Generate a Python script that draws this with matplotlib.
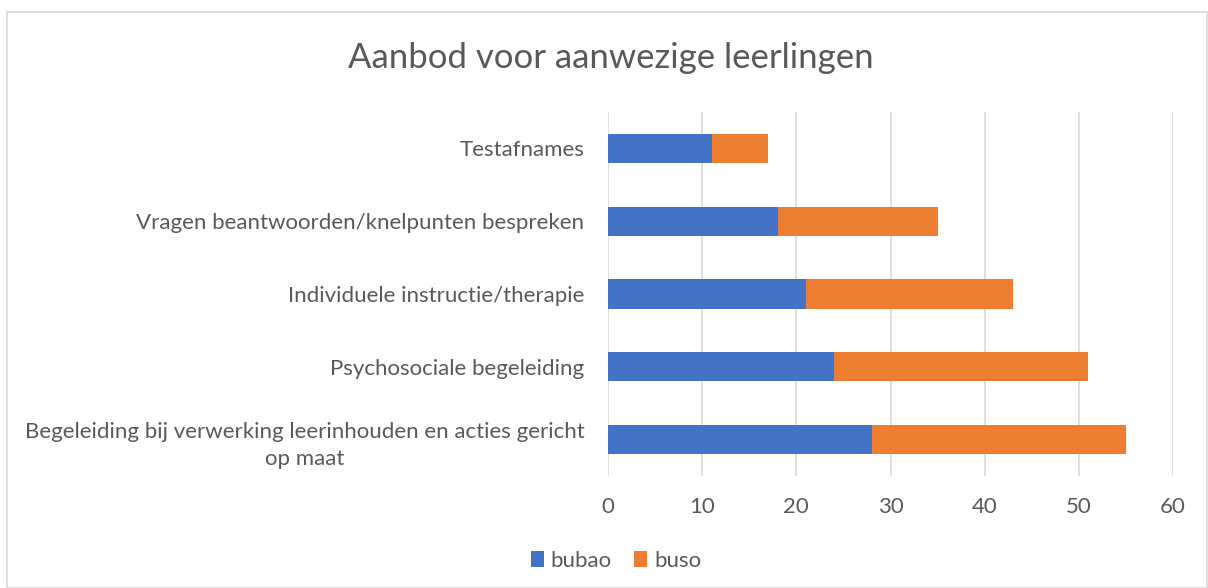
import matplotlib.pyplot as plt
from matplotlib.patches import Rectangle

categories = ["Begeleiding bij verwerking leerinhouden en acties gericht\nop maat",
              "Psychosociale begeleiding",
              "Individuele instructie/therapie",
              "Vragen beantwoorden/knelpunten bespreken",
              "Testafnames"]
bubao = [28, 24, 21, 18, 11]
buso = [27, 27, 22, 17, 6]

plt.rcParams['font.family'] = ['Lato', 'DejaVu Sans']
txt = '#595959'

fig = plt.figure(figsize=(12.08, 5.88), dpi=100)
ax = fig.add_axes([608/1208, 1 - 476/588, (1173-608)/1208, (476-112)/588])

y = range(len(categories))
ax.barh(y, bubao, height=0.4, color='#4472C4', label='bubao', zorder=3)
ax.barh(y, buso, left=bubao, height=0.4, color='#ED7D31', label='buso', zorder=3)

ax.set_xlim(0, 60)
ax.set_ylim(-0.5, len(categories) - 0.5)
ax.set_xticks(range(0, 61, 10))
ax.set_yticks(list(y))
ax.set_yticklabels(categories, multialignment='center', linespacing=1.45)
ax.tick_params(axis='both', length=0, labelsize=16, labelcolor=txt)
ax.tick_params(axis='y', pad=17)
ax.tick_params(axis='x', pad=15)
ax.grid(axis='x', color='#d9d9d9', linewidth=1.2, zorder=0)
for s in ax.spines.values():
    s.set_visible(False)

fig.text(611/1208, 1 - 58/588, "Aanbod voor aanwezige leerlingen", ha='center', va='center',
         fontsize=25, color=txt)

fig.legend(loc='center', bbox_to_anchor=(616/1208, 1 - 561/588), ncol=2, frameon=False,
           fontsize=16, labelcolor=txt, handlelength=0.6, handleheight=0.75,
           handletextpad=0.3, columnspacing=1.0)

fig.patches.append(Rectangle((7/1208, 0), 1200/1208, 1 - 12/588, transform=fig.transFigure,
                             fill=False, edgecolor='#d9d9d9', linewidth=1.2))

fig.savefig('out.png', dpi=100)
